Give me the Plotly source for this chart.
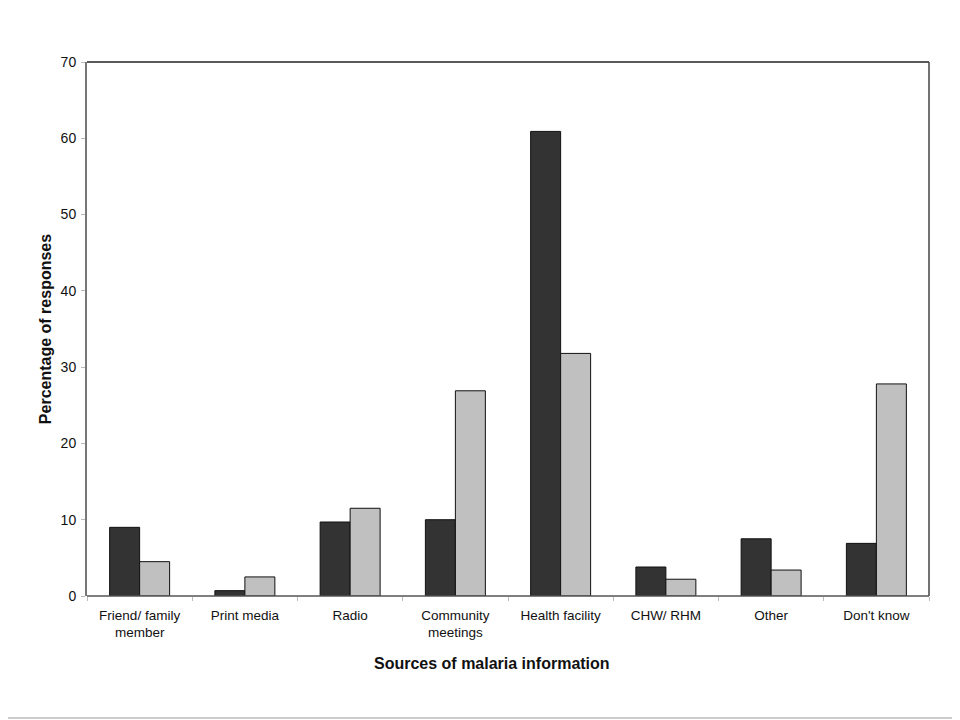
import plotly.graph_objects as go

categories = ["Friend/ family<br>member", "Print media", "Radio", "Community<br>meetings",
              "Health facility", "CHW/ RHM", "Other", "Don't know"]
series_dark = [9.0, 0.7, 9.7, 10.0, 60.9, 3.8, 7.5, 6.9]
series_light = [4.5, 2.5, 11.5, 26.9, 31.8, 2.2, 3.4, 27.8]
y_ticks = [0, 10, 20, 30, 40, 50, 60, 70]

fig = go.Figure()
fig.add_trace(go.Bar(x=categories, y=series_dark, name="Series 1",
                     marker=dict(color="#333333", line=dict(color="#111111", width=1))))
fig.add_trace(go.Bar(x=categories, y=series_light, name="Series 2",
                     marker=dict(color="#c0c0c0", line=dict(color="#111111", width=1))))

font = "Liberation Sans, Arial, sans-serif"
fig.update_layout(
    width=960, height=720,
    margin=dict(l=79, r=39, t=54, b=132),
    paper_bgcolor="white", plot_bgcolor="white",
    barmode="group", bargap=0.43, bargroupgap=0,
    showlegend=False,
    font=dict(family=font, size=13.5, color="#111111"),
    xaxis=dict(
        tickson="boundaries", ticks="outside", ticklen=4, tickcolor="#bbbbbb",
        ticklabelstandoff=9,
        showline=False, showgrid=False,
        tickfont=dict(size=13.5),
    ),
    yaxis=dict(
        title=dict(text="<b>Percentage of responses</b>", font=dict(size=16), standoff=5),
        range=[0, 70], tickvals=y_ticks, ticks="outside", ticklen=4, tickcolor="#bbbbbb",
        ticklabelstandoff=2,
        showline=True, linecolor="#777777", linewidth=2,
        showgrid=False, zeroline=False,
        tickfont=dict(size=14),
    ),
    annotations=[
        dict(text="<b>Sources of malaria information</b>", xref="paper", yref="paper",
             x=0.481, y=-0.1273, xanchor="center", yanchor="middle", showarrow=False,
             font=dict(size=16, family=font, color="#111111")),
    ],
    shapes=[
        dict(type="line", xref="paper", yref="paper", x0=0, x1=1, y0=1, y1=1,
             line=dict(color="#222222", width=1.5)),
        dict(type="line", xref="paper", yref="paper", x0=1, x1=1, y0=0, y1=1,
             line=dict(color="#444444", width=1.5)),
        dict(type="line", xref="paper", yref="paper", x0=0, x1=1, y0=0, y1=0,
             line=dict(color="#555555", width=1.5)),
        dict(type="line", xref="paper", yref="paper", x0=1.0285, x1=1.0285, y0=-0.2285, y1=1.116,
             line=dict(color="#cccccc", width=2)),
        dict(type="line", xref="paper", yref="paper", x0=-0.2, x1=1.0285, y0=-0.2285, y1=-0.2285,
             line=dict(color="#cccccc", width=2)),
    ],
)

fig.write_html("out.html")
